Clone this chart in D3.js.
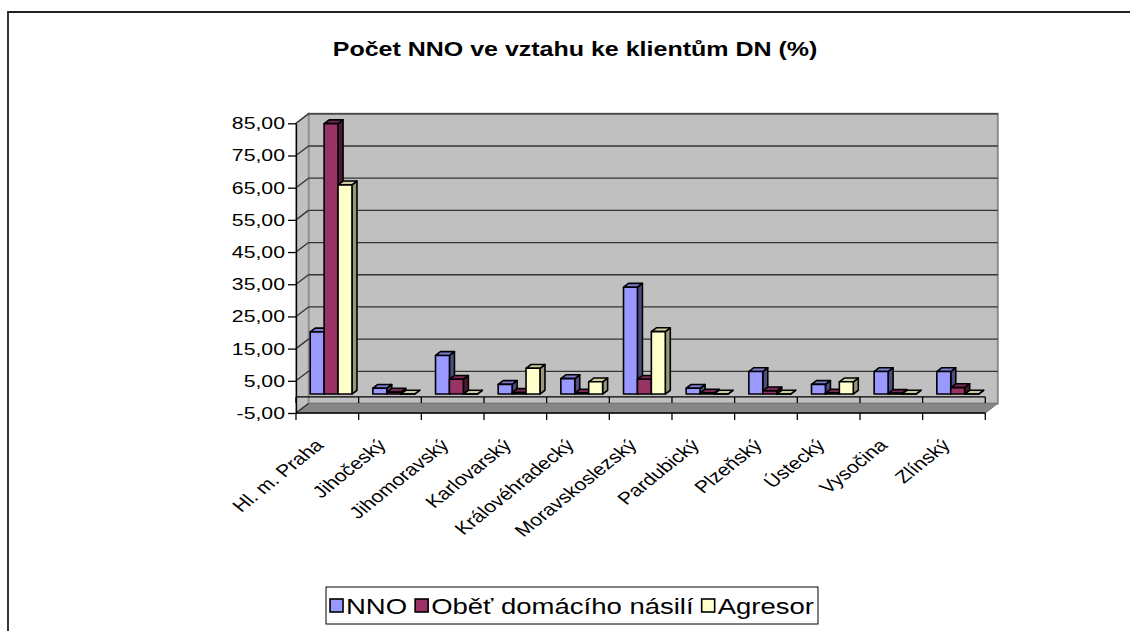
<!DOCTYPE html>
<html>
<head>
<meta charset="utf-8">
<script src="https://cdn.jsdelivr.net/npm/d3@7"></script>
<style>
  body { margin: 0; background: #fff; }
  text { font-family: "Liberation Sans", Arial, sans-serif; }
</style>
</head>
<body>
<div id="chart"></div>
<script>
// chart data
const categories = ["Hl. m. Praha", "Jihočeský", "Jihomoravský", "Karlovarský", "Královéhradecký",
  "Moravskoslezský", "Pardubický", "Plzeňský", "Ústecký", "Vysočina", "Zlínský"];
const seriesNames = ["NNO", "Oběť domácího násilí", "Agresor"];
const nnoValues = [19.3, 1.8, 12, 3, 4.8, 33.2, 1.8, 7, 3, 7, 7];
const obetValues = [84, 0.6, 4.6, 0.5, 0.3, 4.6, 0.3, 1, 0.3, 0.2, 2];
const agresorValues = [65, 0, 0, 8, 3.8, 19.4, 0, 0, 3.8, 0, 0];
const yTickValues = [-5, 5, 15, 25, 35, 45, 55, 65, 75, 85];

const width = 1130, height = 631;
const stretch = 1.25;          // the original picture is stretched sideways
const DX = 12.5, DY = -9.5;    // depth offset of the 3d box
const zFront = 0.3, zBack = 0.7;

const series = [
  { name: seriesNames[0], values: nnoValues, front: "#9999FF", top: "#7D7DD2", side: "#4D4D80" },
  { name: seriesNames[1], values: obetValues, front: "#993366", top: "#7A2952", side: "#4D1A33" },
  { name: seriesNames[2], values: agresorValues, front: "#FFFFCC", top: "#CCCCA3", side: "#99997A" }
];

const svg = d3.select("#chart").append("svg")
  .attr("width", width)
  .attr("height", height);

// outer frame
svg.append("path")
  .attr("d", "M8,631V12H1130")
  .attr("fill", "none")
  .attr("stroke", "#222")
  .attr("stroke-width", 1.8);

// title
svg.append("text")
  .attr("transform", `translate(575,56) scale(${stretch},1)`)
  .attr("text-anchor", "middle")
  .attr("font-size", 20)
  .attr("font-weight", "bold")
  .text("Počet NNO ve vztahu ke klientům DN (%)");

// scales
const x = d3.scaleBand().domain(categories).range([296, 985.3]);
const bw = x.bandwidth();
const groupW = bw * 3 / 4.5;
const xs = d3.scaleBand().domain(seriesNames).range([(bw - groupW) / 2, (bw + groupW) / 2]);
const y = d3.scaleLinear().domain([-5, 85]).range([413, 123.3]);
const [xa, xb] = x.range();
const [vMin, vMax] = y.domain();

const P = (xw, v, z) => [xw + z * DX, y(v) + z * DY];
const poly = pts => "M" + pts.map(p => p.join(",")).join("L") + "Z";

// walls and floor
svg.append("path")
  .attr("d", poly([P(xa, vMin, 1), P(xb, vMin, 1), P(xb, vMax, 1), P(xa, vMax, 1)]))
  .attr("fill", "#C0C0C0")
  .attr("stroke", "#8C8C8C")
  .attr("stroke-width", 2);
svg.append("path")
  .attr("d", poly([P(xa, vMin, 0), P(xa, vMin, 1), P(xa, vMax, 1), P(xa, vMax, 0)]))
  .attr("fill", "#C0C0C0")
  .attr("stroke", "#8C8C8C")
  .attr("stroke-width", 1.5);
svg.append("path")
  .attr("d", poly([P(xa, vMin, 0), P(xb, vMin, 0), P(xb, vMin, 1), P(xa, vMin, 1)]))
  .attr("fill", "#878787")
  .attr("stroke", "#777")
  .attr("stroke-width", 1);

// gridlines on back wall and side wall
const grid = svg.append("g").attr("stroke", "#333").attr("stroke-width", 1.3).attr("fill", "none");
grid.selectAll(".back")
  .data(yTickValues.filter(v => v > vMin))
  .enter()
  .append("path")
  .attr("d", v => "M" + P(xa, v, 1).join(",") + "L" + P(xb, v, 1).join(","));
grid.selectAll(".side")
  .data(yTickValues)
  .enter()
  .append("path")
  .attr("d", v => "M" + P(xa, v, 0).join(",") + "L" + P(xa, v, 1).join(","));

// category boundaries
const bounds = d3.range(categories.length + 1).map(i => xa + i * bw);

// axis line at zero
svg.append("line")
  .attr("x1", xa).attr("x2", xb)
  .attr("y1", y(0)).attr("y2", y(0))
  .attr("stroke", "#000").attr("stroke-width", 1.3);
svg.selectAll(".zt")
  .data(bounds)
  .enter()
  .append("line")
  .attr("x1", d => d).attr("x2", d => d)
  .attr("y1", y(0)).attr("y2", y(0) + 6)
  .attr("stroke", "#000").attr("stroke-width", 1.3);

// bars
const bars = categories.flatMap((c, i) => series.map(s => ({ cat: c, s: s, v: s.values[i] })));
const barG = svg.selectAll(".bar")
  .data(bars)
  .enter()
  .append("g")
  .attr("class", "bar")
  .attr("stroke", "#000")
  .attr("stroke-width", 1.6)
  .attr("stroke-linejoin", "round");

barG.each(function (d) {
  const g = d3.select(this);
  const xl = x(d.cat) + xs(d.s.name);
  const xr = xl + xs.bandwidth();
  g.append("path")
    .attr("fill", d.s.side)
    .attr("d", poly([P(xr, 0, zFront), P(xr, 0, zBack), P(xr, d.v, zBack), P(xr, d.v, zFront)]));
  g.append("path")
    .attr("fill", d.s.top)
    .attr("d", poly([P(xl, d.v, zFront), P(xr, d.v, zFront), P(xr, d.v, zBack), P(xl, d.v, zBack)]));
  g.append("path")
    .attr("fill", d.s.front)
    .attr("d", poly([P(xl, 0, zFront), P(xr, 0, zFront), P(xr, d.v, zFront), P(xl, d.v, zFront)]));
});

// y axis
const yAxis = d3.axisLeft(y)
  .tickValues(yTickValues)
  .tickSizeInner(8)
  .tickSizeOuter(0)
  .tickFormat(d => d.toFixed(2).replace(".", ","));
const gy = svg.append("g")
  .attr("transform", `translate(${xa},0)`)
  .call(yAxis)
  .attr("font-size", 17)
  .attr("font-family", "Liberation Sans, Arial, sans-serif");
gy.select(".domain").attr("stroke", "#000").attr("stroke-width", 1.3);
gy.selectAll(".tick line").attr("stroke", "#000").attr("stroke-width", 1.3);
gy.selectAll(".tick text")
  .attr("x", 0)
  .attr("transform", `translate(-11,0) scale(${stretch},1)`)
  .attr("fill", "#000");

// category axis along the floor front
svg.append("line")
  .attr("x1", xa).attr("x2", xb)
  .attr("y1", y(vMin)).attr("y2", y(vMin))
  .attr("stroke", "#000").attr("stroke-width", 1.5);
svg.selectAll(".bt")
  .data(bounds)
  .enter()
  .append("line")
  .attr("x1", d => d).attr("x2", d => d)
  .attr("y1", y(vMin)).attr("y2", y(vMin) + 7)
  .attr("stroke", "#000").attr("stroke-width", 1.3);

svg.selectAll(".cat")
  .data(categories)
  .enter()
  .append("text")
  .attr("class", "cat")
  .attr("transform", d => `translate(${x(d) + bw / 2 - 8},442) scale(${stretch},1) rotate(-45)`)
  .attr("text-anchor", "end")
  .attr("dy", "0.35em")
  .attr("font-size", 17)
  .text(d => d);

// legend
const legend = svg.append("g");
const box = legend.append("rect")
  .attr("fill", "#fff")
  .attr("stroke", "#000")
  .attr("stroke-width", 1);
const items = legend.selectAll(".item")
  .data(series)
  .enter()
  .append("g")
  .attr("class", "item");
items.append("rect")
  .attr("width", 13)
  .attr("height", 13)
  .attr("y", 599)
  .attr("fill", d => d.front)
  .attr("stroke", "#000")
  .attr("stroke-width", 1.6);
items.append("text")
  .attr("font-size", 22)
  .attr("y", 614)
  .text(d => d.name);

let cx = 0;
const pos = [];
items.each(function (d) {
  const t = d3.select(this).select("text").node().getComputedTextLength() * stretch;
  pos.push({ key: cx, text: cx + 16, w: t });
  cx += 16 + t + 8;
});
const legW = cx - 8 + 8;
const legX = 572 - legW / 2;
items.each(function (d, i) {
  const g = d3.select(this);
  g.select("rect").attr("x", legX + 4 + pos[i].key);
  g.select("text")
    .attr("transform", `translate(${legX + 4 + pos[i].text},0) scale(${stretch},1)`);
});
box.attr("x", legX).attr("y", 587).attr("width", legW).attr("height", 37);
</script>
</body>
</html>
